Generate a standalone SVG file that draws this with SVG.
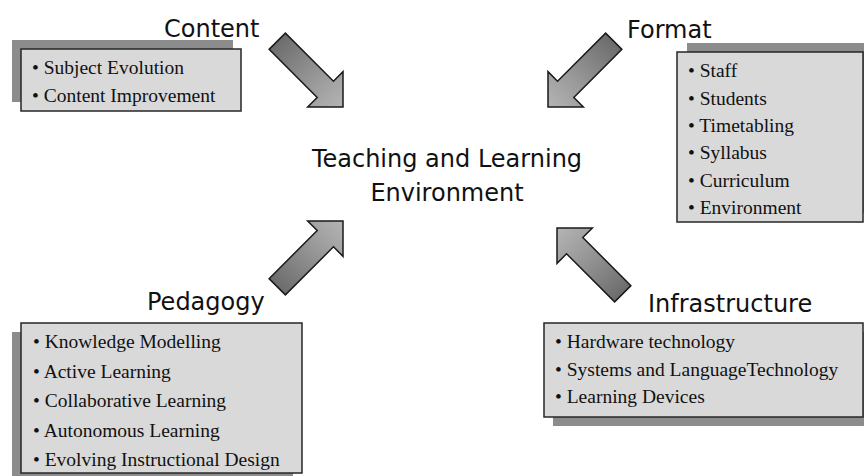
<svg xmlns="http://www.w3.org/2000/svg" width="864" height="476" viewBox="0 0 864 476">
  <style>
    .shadow { fill: #8c8c8c; }
    .box { fill: #d9d9d9; stroke: #262626; stroke-width: 1.5; }
    .label { font-family: "DejaVu Sans", "Liberation Sans", sans-serif; font-size: 24px; fill: #111; }
    .title { font-family: "DejaVu Sans", "Liberation Sans", sans-serif; font-size: 24px; fill: #111; text-anchor: middle; }
    .item { font-family: "Liberation Serif", "Times New Roman", serif; font-size: 19.5px; fill: #111; }
    .arrow { fill: url(#arrowGrad); stroke: #1a1a1a; stroke-width: 1.5; stroke-linejoin: miter; }
  </style>
  <defs>
    <linearGradient id="arrowGrad" gradientUnits="userSpaceOnUse" x1="-93" y1="0" x2="0" y2="0">
      <stop offset="0" stop-color="#6c6c6c"/>
      <stop offset="0.6" stop-color="#9a9a9a"/>
      <stop offset="1" stop-color="#b4b4b4"/>
    </linearGradient>
    <path id="arrowShape" d="M0,0 L-25,-25 L-25,-11.5 L-93,-11.5 L-93,11.5 L-25,11.5 L-25,25 Z"/>
  </defs>
  <rect x="0" y="0" width="864" height="476" fill="#ffffff"/>

  <g id="center">
    <text class="title" x="447" y="167">Teaching and Learning</text>
    <text class="title" x="447" y="201">Environment</text>
  </g>

  <g id="content">
    <rect class="shadow" x="12" y="40" width="221" height="62"/>
    <rect class="box" x="21" y="49" width="220" height="62"/>
    <text class="label" x="164" y="37">Content</text>
    <text class="item" x="32" y="74">• Subject Evolution</text>
    <text class="item" x="32" y="102">• Content Improvement</text>
  </g>

  <g id="format">
    <rect class="shadow" x="687" y="43" width="180" height="170"/>
    <rect class="box" x="677" y="52" width="186" height="170"/>
    <text class="label" x="627" y="38">Format</text>
    <text class="item" x="688" y="77">• Staff</text>
    <text class="item" x="688" y="105">• Students</text>
    <text class="item" x="688" y="132">• Timetabling</text>
    <text class="item" x="688" y="159">• Syllabus</text>
    <text class="item" x="688" y="187">• Curriculum</text>
    <text class="item" x="688" y="214">• Environment</text>
  </g>

  <g id="pedagogy">
    <rect class="shadow" x="12" y="332" width="281" height="150"/>
    <rect class="box" x="21" y="323" width="281" height="150"/>
    <text class="label" x="147" y="310">Pedagogy</text>
    <text class="item" x="33" y="348">• Knowledge Modelling</text>
    <text class="item" x="33" y="378">• Active Learning</text>
    <text class="item" x="33" y="407">• Collaborative Learning</text>
    <text class="item" x="33" y="437">• Autonomous Learning</text>
    <text class="item" x="33" y="466">• Evolving Instructional Design</text>
  </g>

  <g id="infrastructure">
    <rect class="shadow" x="553" y="332" width="314" height="94"/>
    <rect class="box" x="544" y="323" width="319" height="94"/>
    <text class="label" x="648" y="312">Infrastructure</text>
    <text class="item" x="555" y="348">• Hardware technology</text>
    <text class="item" x="555" y="376">• Systems and LanguageTechnology</text>
    <text class="item" x="555" y="403">• Learning Devices</text>
  </g>

  <g id="connectors">
    <use href="#arrowShape" class="arrow" transform="translate(343,107) rotate(45)"/>
    <use href="#arrowShape" class="arrow" transform="translate(548,107) rotate(135)"/>
    <use href="#arrowShape" class="arrow" transform="translate(343,221) rotate(-45)"/>
    <use href="#arrowShape" class="arrow" transform="translate(557,228) rotate(-135)"/>
  </g>
</svg>
